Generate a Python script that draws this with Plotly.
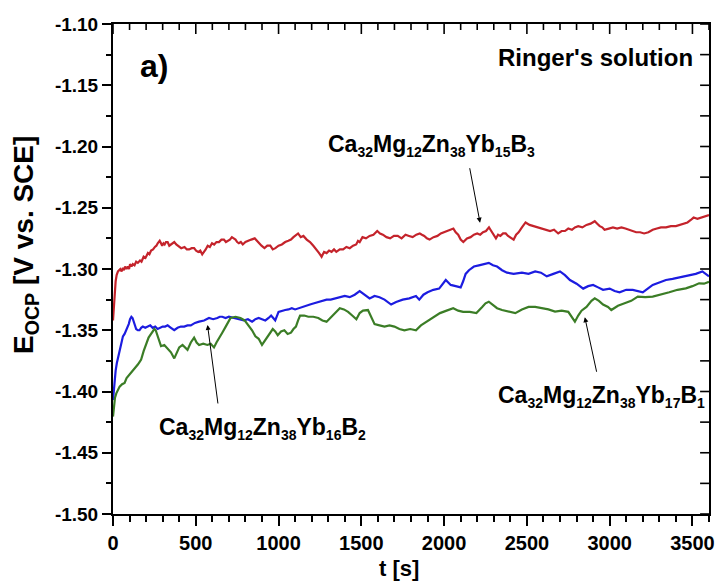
import plotly.graph_objects as go

# Open-circuit potential vs. time in Ringer's solution
# Ca32Mg12Zn38Yb15B3 (red)
t_b3 = [0, 5, 10, 16, 22, 30, 44, 52, 60, 66,
        73, 82, 90, 97, 103, 112, 120, 130, 140, 150,
        163, 172, 185, 196, 211, 220, 230, 242, 253, 262,
        270, 276, 282, 290, 297, 305, 312, 320, 330, 340,
        350, 360, 370, 382, 395, 412, 432, 446, 460, 475,
        490, 502, 515, 527, 539, 550, 560, 572, 585, 598,
        611, 625, 640, 655, 670, 682, 695, 706, 718, 728,
        740, 750, 760, 772, 784, 800, 815, 835, 856, 868,
        880, 897, 915, 932, 950, 965, 981, 1000, 1020, 1040,
        1059, 1075, 1090, 1105, 1118, 1134, 1150, 1170, 1190, 1210,
        1230, 1245, 1260, 1275, 1290, 1305, 1320, 1335, 1349, 1370,
        1390, 1410, 1430, 1450, 1469, 1480, 1490, 1498, 1507, 1528,
        1550, 1573, 1596, 1613, 1630, 1652, 1674, 1697, 1720, 1743,
        1767, 1788, 1810, 1832, 1853, 1866, 1880, 1896, 1912, 1936,
        1960, 1980, 2000, 2028, 2056, 2070, 2085, 2100, 2116, 2138,
        2160, 2180, 2200, 2218, 2235, 2253, 2271, 2280, 2290, 2302,
        2313, 2326, 2340, 2356, 2372, 2386, 2400, 2410, 2420, 2435,
        2450, 2470, 2492, 2516, 2540, 2566, 2593, 2616, 2640, 2664,
        2689, 2710, 2730, 2750, 2772, 2790, 2810, 2835, 2860, 2885,
        2910, 2925, 2940, 2955, 2969, 2995, 3020, 3045, 3071, 3095,
        3120, 3140, 3160, 3184, 3208, 3234, 3260, 3285, 3310, 3340,
        3370, 3400, 3429, 3450, 3470, 3490, 3507, 3530, 3550, 3575,
        3600]
e_b3 = [-1.342, -1.330, -1.318, -1.310, -1.305, -1.302, -1.300, -1.302, -1.299, -1.301,
        -1.298, -1.300, -1.298, -1.300, -1.296, -1.298, -1.296, -1.297, -1.294, -1.295,
        -1.293, -1.294, -1.290, -1.291, -1.287, -1.288, -1.285, -1.284, -1.282, -1.281,
        -1.279, -1.278, -1.277, -1.279, -1.281, -1.279, -1.280, -1.278, -1.278, -1.281,
        -1.280, -1.279, -1.278, -1.280, -1.281, -1.283, -1.282, -1.284, -1.284, -1.283,
        -1.283, -1.285, -1.286, -1.285, -1.288, -1.286, -1.284, -1.281, -1.282, -1.279,
        -1.280, -1.278, -1.278, -1.276, -1.276, -1.278, -1.277, -1.276, -1.274, -1.275,
        -1.276, -1.278, -1.279, -1.278, -1.280, -1.278, -1.277, -1.276, -1.275, -1.277,
        -1.279, -1.281, -1.283, -1.281, -1.281, -1.284, -1.283, -1.281, -1.280, -1.278,
        -1.277, -1.276, -1.274, -1.272, -1.271, -1.274, -1.273, -1.276, -1.278, -1.281,
        -1.284, -1.287, -1.290, -1.286, -1.287, -1.285, -1.286, -1.284, -1.286, -1.284,
        -1.284, -1.282, -1.283, -1.281, -1.280, -1.277, -1.278, -1.276, -1.274, -1.275,
        -1.273, -1.272, -1.269, -1.271, -1.272, -1.274, -1.275, -1.273, -1.273, -1.275,
        -1.272, -1.273, -1.274, -1.272, -1.271, -1.272, -1.273, -1.275, -1.276, -1.274,
        -1.273, -1.271, -1.270, -1.269, -1.267, -1.270, -1.272, -1.276, -1.278, -1.275,
        -1.274, -1.272, -1.271, -1.272, -1.270, -1.269, -1.266, -1.268, -1.270, -1.273,
        -1.275, -1.272, -1.273, -1.271, -1.271, -1.273, -1.274, -1.275, -1.276, -1.272,
        -1.270, -1.266, -1.262, -1.264, -1.265, -1.266, -1.267, -1.268, -1.269, -1.268,
        -1.271, -1.269, -1.269, -1.267, -1.268, -1.266, -1.265, -1.266, -1.264, -1.263,
        -1.261, -1.263, -1.265, -1.266, -1.268, -1.267, -1.266, -1.267, -1.266, -1.267,
        -1.268, -1.269, -1.270, -1.270, -1.271, -1.270, -1.268, -1.267, -1.266, -1.266,
        -1.265, -1.265, -1.264, -1.263, -1.262, -1.260, -1.258, -1.259, -1.258, -1.257,
        -1.256]

# Ca32Mg12Zn38Yb16B2 (blue)
t_b2 = [0, 5, 10, 16, 23, 31, 38, 45, 52, 60,
        70, 80, 88, 95, 103, 111, 118, 125, 132, 140,
        150, 160, 170, 180, 195, 210, 225, 240, 255, 270,
        285, 300, 315, 330, 350, 370, 390, 410, 430, 450,
        470, 495, 520, 550, 580, 605, 630, 645, 660, 680,
        700, 730, 760, 790, 815, 840, 860, 880, 900, 920,
        940, 955, 968, 980, 1000, 1020, 1040, 1060, 1080, 1100,
        1120, 1145, 1170, 1190, 1215, 1240, 1265, 1290, 1315, 1340,
        1370, 1400, 1430, 1460, 1490, 1510, 1530, 1550, 1580, 1610,
        1640, 1660, 1680, 1710, 1750, 1790, 1830, 1850, 1875, 1900,
        1935, 1970, 1990, 2010, 2025, 2040, 2070, 2100, 2115, 2130,
        2150, 2180, 2210, 2240, 2270, 2295, 2320, 2350, 2380, 2420,
        2470, 2510, 2550, 2585, 2620, 2660, 2700, 2730, 2760, 2800,
        2840, 2870, 2900, 2930, 2960, 3000, 3030, 3060, 3100, 3140,
        3170, 3200, 3230, 3260, 3300, 3340, 3380, 3420, 3450, 3480,
        3520, 3560, 3580, 3600]
e_b2 = [-1.407, -1.398, -1.390, -1.383, -1.377, -1.372, -1.366, -1.362, -1.358, -1.355,
        -1.353, -1.350, -1.347, -1.345, -1.341, -1.339, -1.340, -1.343, -1.347, -1.349,
        -1.350, -1.350, -1.348, -1.347, -1.348, -1.347, -1.346, -1.348, -1.347, -1.349,
        -1.348, -1.347, -1.347, -1.346, -1.348, -1.350, -1.348, -1.347, -1.347, -1.346,
        -1.346, -1.344, -1.343, -1.342, -1.340, -1.341, -1.340, -1.339, -1.339, -1.340,
        -1.339, -1.340, -1.341, -1.342, -1.341, -1.343, -1.341, -1.340, -1.341, -1.342,
        -1.340, -1.338, -1.340, -1.342, -1.335, -1.334, -1.3335, -1.333, -1.332, -1.333,
        -1.332, -1.331, -1.330, -1.329, -1.328, -1.327, -1.326, -1.325, -1.325, -1.324,
        -1.323, -1.322, -1.323, -1.321, -1.318, -1.320, -1.322, -1.324, -1.322, -1.323,
        -1.325, -1.327, -1.329, -1.327, -1.325, -1.324, -1.322, -1.325, -1.321, -1.319,
        -1.317, -1.316, -1.312, -1.309, -1.311, -1.313, -1.314, -1.315, -1.310, -1.304,
        -1.301, -1.298, -1.297, -1.296, -1.295, -1.297, -1.298, -1.301, -1.303, -1.304,
        -1.303, -1.304, -1.302, -1.303, -1.306, -1.304, -1.302, -1.305, -1.309, -1.312,
        -1.316, -1.314, -1.313, -1.315, -1.317, -1.316, -1.318, -1.319, -1.317, -1.317,
        -1.318, -1.319, -1.316, -1.313, -1.311, -1.309, -1.308, -1.307, -1.306, -1.305,
        -1.304, -1.302, -1.304, -1.306]

# Ca32Mg12Zn38Yb17B1 (green)
t_b1 = [0, 6, 12, 20, 30, 40, 55, 70, 82, 95,
        110, 130, 140, 150, 160, 170, 185, 200, 215, 230,
        240, 250, 258, 265, 275, 290, 310, 330, 350, 370,
        385, 400, 420, 440, 450, 470, 490, 505, 520, 545,
        570, 590, 610, 625, 640, 660, 685, 710, 740, 770,
        795, 820, 840, 860, 880, 900, 915, 935, 950, 965,
        980, 995, 1015, 1035, 1055, 1075, 1090, 1105, 1118, 1130,
        1155, 1180, 1210, 1240, 1265, 1290, 1305, 1320, 1345, 1370,
        1395, 1420, 1445, 1470, 1490, 1510, 1540, 1560, 1580, 1610,
        1640, 1670, 1700, 1730, 1760, 1795, 1830, 1860, 1895, 1935,
        1975, 2015, 2055, 2085, 2115, 2155, 2195, 2230, 2250, 2270,
        2290, 2320, 2350, 2390, 2430, 2470, 2510, 2550, 2590, 2630,
        2670, 2710, 2750, 2770, 2790, 2810, 2830, 2860, 2890, 2910,
        2935, 2960, 2990, 3010, 3050, 3090, 3130, 3170, 3215, 3260,
        3310, 3360, 3410, 3460, 3500, 3540, 3570, 3600]
e_b1 = [-1.4205, -1.412, -1.405, -1.4015, -1.398, -1.396, -1.394, -1.393, -1.389, -1.387,
        -1.385, -1.382, -1.380, -1.378, -1.376, -1.374, -1.367, -1.361, -1.356, -1.353,
        -1.351, -1.349, -1.350, -1.353, -1.358, -1.363, -1.362, -1.365, -1.368, -1.373,
        -1.368, -1.364, -1.362, -1.365, -1.366, -1.360, -1.356, -1.360, -1.362, -1.361,
        -1.362, -1.361, -1.364, -1.360, -1.356, -1.352, -1.346, -1.340, -1.339, -1.340,
        -1.342, -1.346, -1.350, -1.355, -1.357, -1.362, -1.359, -1.354, -1.352, -1.349,
        -1.351, -1.354, -1.351, -1.350, -1.353, -1.352, -1.349, -1.347, -1.342, -1.338,
        -1.338, -1.339, -1.339, -1.340, -1.342, -1.343, -1.341, -1.339, -1.335, -1.332,
        -1.333, -1.335, -1.338, -1.341, -1.336, -1.334, -1.3335, -1.340, -1.345, -1.346,
        -1.347, -1.346, -1.347, -1.349, -1.350, -1.349, -1.350, -1.346, -1.343, -1.339,
        -1.336, -1.334, -1.332, -1.334, -1.335, -1.335, -1.336, -1.331, -1.328, -1.3267,
        -1.329, -1.332, -1.3335, -1.335, -1.336, -1.333, -1.331, -1.331, -1.332, -1.333,
        -1.3348, -1.334, -1.335, -1.339, -1.343, -1.338, -1.334, -1.331, -1.326, -1.324,
        -1.326, -1.329, -1.331, -1.3335, -1.330, -1.328, -1.326, -1.3226, -1.323, -1.3226,
        -1.321, -1.319, -1.317, -1.3158, -1.314, -1.3117, -1.312, -1.3104]

x_ticks = [0, 500, 1000, 1500, 2000, 2500, 3000, 3500]
x_tick_text = ["0", "500", "1000", "1500", "2000", "2500", "3000", "3500"]
y_ticks = [-1.50, -1.45, -1.40, -1.35, -1.30, -1.25, -1.20, -1.15, -1.10]
y_tick_text = ["-1.50", "-1.45", "-1.40", "-1.35", "-1.30", "-1.25", "-1.20", "-1.15", "-1.10"]

FONT = "Liberation Sans, Arial, sans-serif"
RED, BLUE, GREEN = "#c4232b", "#1c1ce0", "#3b7d26"
X_RANGE = [0, 3600]
Y_RANGE = [-1.50, -1.10]
PLOT_W, PLOT_H = 602, 490  # plot-area size in px


def formula(ca, mg, zn, yb, b):
    s = '<span style="font-size:14px">%s</span>'
    return ("Ca<sub>" + s % ca + "</sub>Mg<sub>" + s % mg + "</sub>Zn<sub>" + s % zn +
            "</sub>Yb<sub>" + s % yb + "</sub>B<sub>" + s % b + "</sub>")


fig = go.Figure()
fig.add_trace(go.Scatter(x=t_b3, y=e_b3, mode="lines", line=dict(color=RED, width=2.2)))
fig.add_trace(go.Scatter(x=t_b2, y=e_b2, mode="lines", line=dict(color=BLUE, width=2.2)))
fig.add_trace(go.Scatter(x=t_b1, y=e_b1, mode="lines", line=dict(color=GREEN, width=2.2)))

# inward tick marks on the top and right frame edges (tick length converted from px to data units)
px_y = (Y_RANGE[1] - Y_RANGE[0]) / PLOT_H
px_x = (X_RANGE[1] - X_RANGE[0]) / PLOT_W
tx, ty = [], []
for i in range(37):
    v = X_RANGE[0] + i * 100
    ln = 10 if v % 500 == 0 else 6
    tx += [v, v, None]
    ty += [Y_RANGE[1], Y_RANGE[1] - ln * px_y, None]
for i in range(17):
    v = Y_RANGE[0] + i * 0.025
    tx += [X_RANGE[1], X_RANGE[1] - 9 * px_x, None]
    ty += [v, v, None]
fig.add_trace(go.Scatter(x=tx, y=ty, mode="lines", line=dict(color="black", width=1.6),
                         hoverinfo="skip", cliponaxis=False))

bold = dict(family=FONT, color="black", weight="bold")

fig.update_layout(
    width=724, height=581,
    margin=dict(l=113, r=9, t=24, b=67),
    paper_bgcolor="white", plot_bgcolor="white",
    showlegend=False,
    xaxis=dict(range=X_RANGE, tickvals=x_ticks, ticktext=x_tick_text,
               ticks="outside", ticklen=10, tickwidth=1.5, tickcolor="black",
               minor=dict(dtick=100, tick0=0, ticks="outside", ticklen=6, tickwidth=1.5, tickcolor="black"),
               showline=True, linewidth=2, linecolor="black", mirror=True,
               showgrid=False, zeroline=False,
               tickfont=dict(size=20, **bold)),
    yaxis=dict(range=Y_RANGE, tickvals=y_ticks, ticktext=y_tick_text,
               ticks="outside", ticklen=9, tickwidth=1.5, tickcolor="black",
               minor=dict(dtick=0.025, tick0=-1.5, ticks="outside", ticklen=5, tickwidth=1.5, tickcolor="black"),
               showline=True, linewidth=2, linecolor="black", mirror=True,
               showgrid=False, zeroline=False,
               tickfont=dict(size=19, **bold)),
)

annotations = [
    dict(x=-0.146, y=0.549, xref="paper", yref="paper", xanchor="center", yanchor="middle",
         textangle=-90, text="E<sub>OCP</sub> [V vs. SCE]", showarrow=False, font=dict(size=28, **bold)),
    dict(x=0.4796, y=-0.112, xref="paper", yref="paper", xanchor="center", yanchor="middle",
         text="t [s]", showarrow=False, font=dict(size=22, **bold)),
    dict(x=148, y=-1.1343, xref="x", yref="y", xanchor="left", yanchor="middle",
         text="a)", showarrow=False, font=dict(size=32, **bold)),
    dict(x=3515, y=-1.127, xref="x", yref="y", xanchor="right", yanchor="middle",
         text="Ringer's solution", showarrow=False, font=dict(size=24, **bold)),
    dict(x=1286, y=-1.199, xref="x", yref="y", xanchor="left", yanchor="middle",
         text=formula(32, 12, 38, 15, 3), showarrow=False, font=dict(size=23, **bold)),
    dict(x=263, y=-1.4298, xref="x", yref="y", xanchor="left", yanchor="middle",
         text=formula(32, 12, 38, 16, 2), showarrow=False, font=dict(size=23, **bold)),
    dict(x=2313, y=-1.4037, xref="x", yref="y", xanchor="left", yanchor="middle",
         text=formula(32, 12, 38, 17, 1), showarrow=False, font=dict(size=23, **bold)),
    # pointer arrows from labels to curves
    dict(x=2217, y=-1.2622, ax=2153, ay=-1.2165, xref="x", yref="y", axref="x", ayref="y",
         text="", showarrow=True, arrowhead=2, arrowsize=1, arrowwidth=1, arrowcolor="black"),
    dict(x=571, y=-1.3457, ax=635, ay=-1.411, xref="x", yref="y", axref="x", ayref="y",
         text="", showarrow=True, arrowhead=2, arrowsize=1, arrowwidth=1, arrowcolor="black"),
    dict(x=2850, y=-1.3394, ax=2923, ay=-1.3851, xref="x", yref="y", axref="x", ayref="y",
         text="", showarrow=True, arrowhead=2, arrowsize=1, arrowwidth=1, arrowcolor="black"),
]
fig.update_layout(annotations=annotations)

fig.write_html("out.html")
